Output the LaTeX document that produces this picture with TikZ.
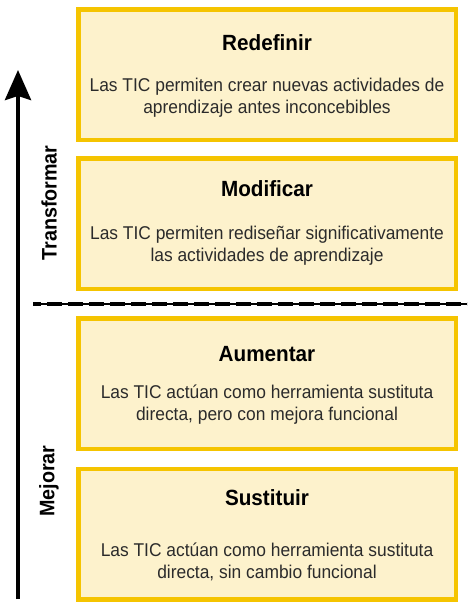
\documentclass[tikz,border=0pt]{standalone}
\usepackage{fontspec}
\setmainfont{Liberation Sans}[FakeStretch=0.94]
\usetikzlibrary{arrows.meta,positioning}
\definecolor{boxfill}{HTML}{FDF2CC}
\definecolor{boxline}{HTML}{F5C400}
\definecolor{bodytext}{HTML}{2B2B2B}

\begin{document}
\begin{tikzpicture}[x=1pt, y=-1pt,
    level/.style={draw=boxline, fill=boxfill, line width=4.5pt, minimum width=377.5pt, minimum height=130.5pt, inner sep=0pt},
    title/.style={font=\fontsize{22}{26}\selectfont\bfseries, inner sep=0pt},
    desc/.style={font=\fontsize{18.5}{22}\selectfont, text=bodytext, align=center, inner sep=0pt},
    side/.style={font=\fontsize{21}{25}\selectfont\bfseries, rotate=90, inner sep=0pt}]
    \useasboundingbox (0,0) rectangle (467,605);

    % niveles
    \node (red) [level] at (267,74.5) {};
    \node (mod) [level] at (267,223.5) {};
    \node (aum) [level] at (267,383.5) {};
    \node (sus) [level] at (267,534) {};

    \node (redT) [title] at (267,43) {Redefinir};
    \node (redD) [desc] at (267,98) {Las TIC permiten crear nuevas actividades de\\aprendizaje antes inconcebibles};
    \node (modT) [title] at (267,189) {Modificar};
    \node (modD) [desc] at (267,246) {Las TIC permiten rediseñar significativamente\\las actividades de aprendizaje};
    \node (aumT) [title] at (267,354) {Aumentar};
    \node (aumD) [desc] at (267,404.5) {Las TIC actúan como herramienta sustituta\\directa, pero con mejora funcional};
    \node (susT) [title] at (267,498) {Sustituir};
    \node (susD) [desc] at (267,561.5) {Las TIC actúan como herramienta sustituta\\directa, sin cambio funcional};

    % separador
    \coordinate (sepL) at (33,304);
    \coordinate (sepR) at (467,304);
    \draw[line width=1.5pt] (sepL) -- (sepR);
    \draw[line width=4.5pt, dash pattern=on 15pt off 6pt, dash phase=7pt] (sepL) -- (sepR);

    % eje
    \coordinate (ejeB) at (18,599);
    \coordinate (ejeT) at (18,70);
    \draw[line width=4pt, -{Stealth[length=30pt, width=26pt, inset=4pt]}] (ejeB) -- (ejeT);

    \node (trans) [side] at (49,203) {Transformar};
    \node (mej) [side] at (49,481) {Mejorar};
\end{tikzpicture}
\end{document}
